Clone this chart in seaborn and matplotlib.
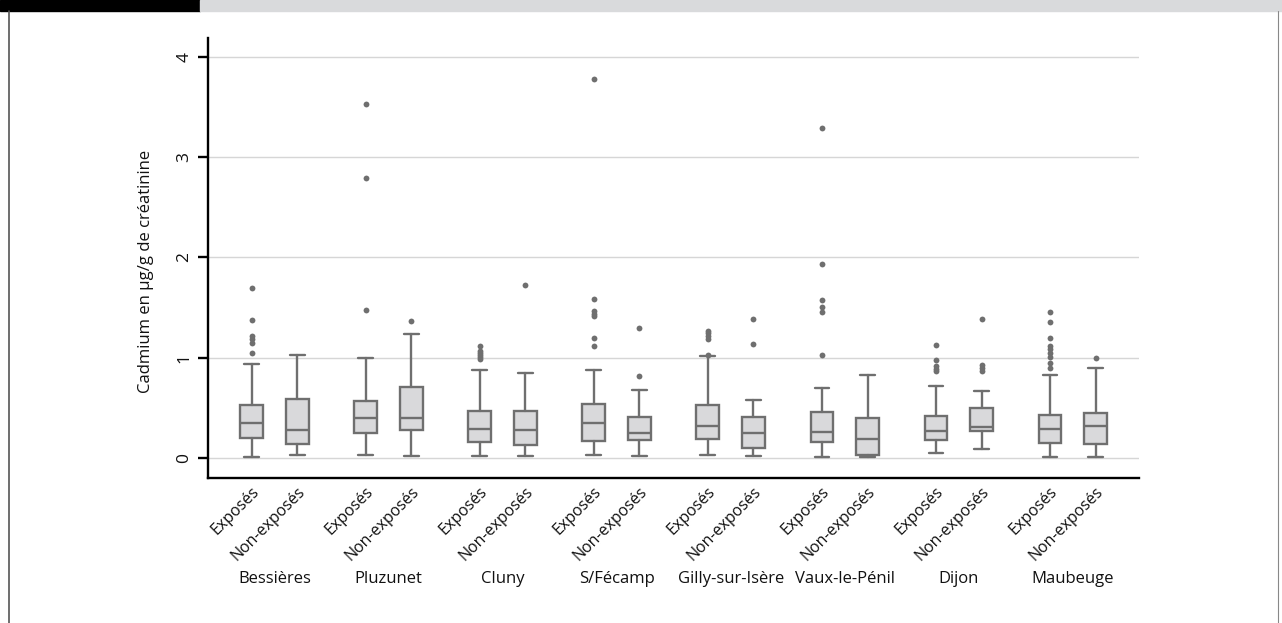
import matplotlib
matplotlib.use("Agg")
import matplotlib.pyplot as plt
import seaborn as sns
from matplotlib.transforms import ScaledTranslation, blended_transform_factory
from matplotlib.patches import Rectangle
from matplotlib.lines import Line2D

sites = ["Bessières", "Pluzunet", "Cluny", "S/Fécamp", "Gilly-sur-Isère",
         "Vaux-le-Pénil", "Dijon", "Maubeuge"]
groups = ["Exposés", "Non-exposés"]
y_label = "Cadmium en µg/g de créatinine"
y_ticks = [0, 1, 2, 3, 4]

# Exposés
expo_lo = [0.01, 0.03, 0.015, 0.025, 0.025, 0.01, 0.045, 0.01]
expo_q1 = [0.20, 0.245, 0.155, 0.165, 0.19, 0.16, 0.18, 0.145]
expo_med = [0.345, 0.40, 0.285, 0.345, 0.32, 0.26, 0.265, 0.285]
expo_q3 = [0.525, 0.57, 0.465, 0.535, 0.525, 0.455, 0.415, 0.43]
expo_hi = [0.94, 1.00, 0.875, 0.875, 1.015, 0.695, 0.72, 0.83]
expo_out = [
    [1.05, 1.15, 1.19, 1.22, 1.38, 1.70],
    [1.48, 2.79, 3.53],
    [0.99, 1.01, 1.03, 1.05, 1.07, 1.12],
    [1.12, 1.20, 1.42, 1.44, 1.47, 1.59, 3.78],
    [1.03, 1.19, 1.22, 1.25, 1.27],
    [1.025, 1.46, 1.51, 1.58, 1.94, 3.29],
    [0.87, 0.89, 0.92, 0.98, 1.13],
    [0.90, 0.95, 1.01, 1.05, 1.09, 1.12, 1.20, 1.36, 1.46],
]

# Non-exposés
non_lo = [0.025, 0.02, 0.015, 0.015, 0.015, 0.01, 0.085, 0.01]
non_q1 = [0.14, 0.275, 0.13, 0.175, 0.095, 0.025, 0.265, 0.14]
non_med = [0.275, 0.40, 0.275, 0.25, 0.25, 0.19, 0.305, 0.32]
non_q3 = [0.585, 0.71, 0.47, 0.41, 0.405, 0.395, 0.50, 0.45]
non_hi = [1.03, 1.235, 0.85, 0.68, 0.58, 0.83, 0.67, 0.895]
non_out = [
    [],
    [1.37],
    [1.73],
    [0.815, 1.30],
    [1.14, 1.39],
    [],
    [0.87, 0.90, 0.93, 1.39],
    [1.00],
]

sns.set_theme(style="white")
plt.rcParams["font.family"] = ["Open Sans", "DejaVu Sans"]
ink = "#111111"
plt.rcParams.update({"text.color": ink, "axes.labelcolor": ink,
                     "xtick.color": ink, "ytick.color": ink})

W, H = 1282, 623
fig = plt.figure(figsize=(W / 100, H / 100), dpi=100)
ax = fig.add_axes([208.3 / W, 1 - 478 / H, (1139 - 208.3) / W, (478 - 38) / H])

edge = "#6f6f6f"
face = "#d9d9db"

stats, positions = [], []
for i in range(len(sites)):
    for j, (lo, a, m, b, hi, out) in enumerate([
        (expo_lo, expo_q1, expo_med, expo_q3, expo_hi, expo_out),
        (non_lo, non_q1, non_med, non_q3, non_hi, non_out),
    ]):
        stats.append(dict(whislo=lo[i], q1=a[i], med=m[i], q3=b[i],
                          whishi=hi[i], fliers=out[i]))
        positions.append(i + (-0.2 if j == 0 else 0.2))

ax.bxp(stats, positions=positions, widths=0.2, capwidths=0.13,
       patch_artist=True, showfliers=True,
       boxprops=dict(facecolor=face, edgecolor=edge, linewidth=1.7),
       medianprops=dict(color=edge, linewidth=1.7),
       whiskerprops=dict(color=edge, linewidth=1.7),
       capprops=dict(color=edge, linewidth=1.7),
       flierprops=dict(marker="o", markersize=4.2, markerfacecolor=edge,
                       markeredgecolor=edge, markeredgewidth=0))

ax.set_xlim(-0.58, 7.58)
ax.set_ylim(-0.2, 4.19)
ax.set_yticks(y_ticks)
ax.set_yticklabels([str(t) for t in y_ticks], fontsize=12.5)
ax.yaxis.grid(True, color="#d6d6d6", linewidth=1.0)
ax.set_axisbelow(True)

for s in ["top", "right"]:
    ax.spines[s].set_visible(False)
for s in ["left", "bottom"]:
    ax.spines[s].set_color("black")
    ax.spines[s].set_linewidth(1.7)

ax.tick_params(axis="y", which="major", direction="out", length=7.5, width=1.7,
               color="black", left=True, pad=4, labelrotation=90)
for lab in ax.get_yticklabels():
    lab.set_va("center")

ax.set_ylabel(y_label, fontsize=12)
ax.yaxis.set_label_coords(-0.058, 0.47)

ax.set_xticks(positions)
ax.set_xticklabels(groups * len(sites), fontsize=11.5)
ax.tick_params(axis="x", length=0, pad=4)
off = ScaledTranslation(11 / 100, 0, fig.dpi_scale_trans)
for lab in ax.get_xticklabels():
    lab.set_rotation(45)
    lab.set_ha("right")
    lab.set_va("top")
    lab.set_rotation_mode("default")
    lab.set_transform(lab.get_transform() + off)

tr = blended_transform_factory(ax.transData, ax.transAxes)
for i, s in enumerate(sites):
    ax.text(i, -0.229, s, transform=tr, ha="center", va="center", fontsize=12)

# frame decorations
fig.patches.append(Rectangle((0, 1 - 11 / H), 200 / W, 11 / H,
                             transform=fig.transFigure, color="black", zorder=0))
fig.patches.append(Rectangle((200 / W, 1 - 11 / H), 1 - 200 / W, 11 / H,
                             transform=fig.transFigure, color="#d9dadc", zorder=0))
fig.lines.append(Line2D([9 / W, 9 / W], [0, 1 - 11 / H], transform=fig.transFigure,
                        color="#555555", linewidth=1.2))
fig.lines.append(Line2D([1277.5 / W, 1277.5 / W], [0, 1 - 11 / H],
                        transform=fig.transFigure, color="#888888", linewidth=0.8))

fig.savefig("out.png", dpi=100)
